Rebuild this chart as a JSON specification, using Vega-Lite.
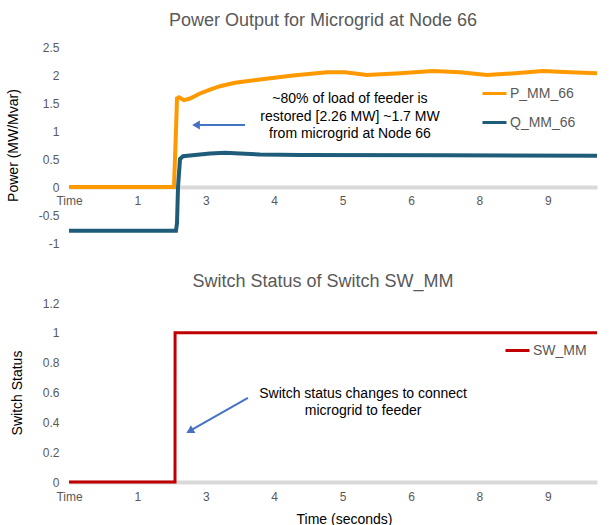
{
  "$schema": "https://vega.github.io/schema/vega-lite/v6.json",
  "padding": {"left": 6, "top": 12, "right": 12, "bottom": 0},
  "config": {"font": "Liberation Sans", "view": {"stroke": null}, "concat": {"spacing": 24}},
  "datasets": {
    "power": [
      {"series": "P_MM_66", "x": 0, "y": 0},
      {"series": "P_MM_66", "x": 1.535, "y": 0},
      {"series": "P_MM_66", "x": 1.564, "y": 1.0},
      {"series": "P_MM_66", "x": 1.579, "y": 1.58},
      {"series": "P_MM_66", "x": 1.608, "y": 1.6},
      {"series": "P_MM_66", "x": 1.681, "y": 1.55},
      {"series": "P_MM_66", "x": 1.769, "y": 1.58},
      {"series": "P_MM_66", "x": 1.915, "y": 1.67},
      {"series": "P_MM_66", "x": 2.061, "y": 1.74},
      {"series": "P_MM_66", "x": 2.208, "y": 1.8},
      {"series": "P_MM_66", "x": 2.427, "y": 1.86},
      {"series": "P_MM_66", "x": 2.792, "y": 1.92},
      {"series": "P_MM_66", "x": 3.275, "y": 1.99},
      {"series": "P_MM_66", "x": 3.772, "y": 2.05},
      {"series": "P_MM_66", "x": 4.035, "y": 2.05},
      {"series": "P_MM_66", "x": 4.357, "y": 2.0},
      {"series": "P_MM_66", "x": 4.839, "y": 2.03},
      {"series": "P_MM_66", "x": 5.322, "y": 2.07},
      {"series": "P_MM_66", "x": 5.716, "y": 2.05},
      {"series": "P_MM_66", "x": 6.111, "y": 2.0},
      {"series": "P_MM_66", "x": 6.52, "y": 2.03},
      {"series": "P_MM_66", "x": 6.93, "y": 2.07},
      {"series": "P_MM_66", "x": 7.325, "y": 2.05},
      {"series": "P_MM_66", "x": 7.72, "y": 2.03},
      {"series": "Q_MM_66", "x": 0, "y": -0.78},
      {"series": "Q_MM_66", "x": 1.564, "y": -0.78},
      {"series": "Q_MM_66", "x": 1.579, "y": -0.65},
      {"series": "Q_MM_66", "x": 1.594, "y": 0.0},
      {"series": "Q_MM_66", "x": 1.623, "y": 0.5},
      {"series": "Q_MM_66", "x": 1.667, "y": 0.55},
      {"series": "Q_MM_66", "x": 1.842, "y": 0.57},
      {"series": "Q_MM_66", "x": 2.061, "y": 0.6},
      {"series": "Q_MM_66", "x": 2.281, "y": 0.61},
      {"series": "Q_MM_66", "x": 2.5, "y": 0.6},
      {"series": "Q_MM_66", "x": 2.792, "y": 0.58},
      {"series": "Q_MM_66", "x": 3.377, "y": 0.57},
      {"series": "Q_MM_66", "x": 5.5, "y": 0.565},
      {"series": "Q_MM_66", "x": 7.72, "y": 0.56}
    ],
    "sw": [
      {"series": "SW_MM", "x": 0, "y": 0},
      {"series": "SW_MM", "x": 1.55, "y": 0},
      {"series": "SW_MM", "x": 1.551, "y": 1},
      {"series": "SW_MM", "x": 7.72, "y": 1}
    ],
    "note1": [
      {"x": 4.108, "y": 1.571, "text": "~80% of load of feeder is"},
      {"x": 4.108, "y": 1.25, "text": "restored [2.26 MW] ~1.7 MW"},
      {"x": 4.108, "y": 0.946, "text": "from microgrid at Node 66"}
    ],
    "arrow1": [{"x": 2.573, "y": 1.107, "x2": 1.857, "y2": 1.107}],
    "note2": [
      {"x": 4.3, "y": 0.59, "text": "Switch status changes to connect"},
      {"x": 4.3, "y": 0.476, "text": "microgrid to feeder"}
    ],
    "arrow2": [{"x": 2.616, "y": 0.564, "x2": 1.766, "y2": 0.342}]
  },
  "vconcat": [
    {
      "width": 528,
      "height": 196,
      "title": {"text": "Power Output for Microgrid at Node 66", "fontSize": 18, "fontWeight": "normal", "color": "#595959", "dx": -10, "offset": 11},
      "layer": [
        {
          "data": {"name": "power"},
          "mark": {"type": "line", "strokeWidth": 4},
          "encoding": {
            "x": {"field": "x", "type": "quantitative", "scale": {"domain": [0, 7.72], "nice": false, "zero": false},
              "axis": {"values": [0, 1, 2, 3, 4, 5, 6, 7], "tickCount": 30, "labelExpr": "['Time','1','3','4','5','6','8','9'][datum.value]", "offset": -56, "domainColor": "#D9D9D9", "domainWidth": 4, "ticks": false, "tickSize": 0, "labelPadding": 8, "labelFlush": false, "labelOverlap": false, "labelColor": "#595959", "labelFontSize": 12, "grid": false, "title": null}},
            "y": {"field": "y", "type": "quantitative", "scale": {"domain": [-1, 2.5], "nice": false},
              "axis": {"values": [-1, -0.5, 0, 0.5, 1, 1.5, 2, 2.5], "tickCount": 30, "labelExpr": "'' + datum.value", "labelOverlap": false, "domain": false, "ticks": false, "tickSize": 0, "grid": false, "labelPadding": 10, "labelColor": "#595959", "labelFontSize": 12, "title": "Power (MW/Mvar)", "titleFontSize": 14, "titleFontWeight": "normal", "titleColor": "#000000", "titlePadding": 18}},
            "color": {"field": "series", "type": "nominal", "scale": {"domain": ["P_MM_66", "Q_MM_66"], "range": ["#FF9900", "#1F5C7A"]},
              "legend": {"orient": "none", "legendX": 412, "legendY": 33, "title": null, "symbolType": "stroke", "symbolSize": 576, "symbolStrokeWidth": 3, "labelFontSize": 14, "labelColor": "#595959", "labelOffset": 2, "rowPadding": 8, "padding": 0}}
          }
        },
        {
          "data": {"name": "note1"},
          "mark": {"type": "text", "fontSize": 14, "color": "#000000", "align": "center", "baseline": "middle"},
          "encoding": {
            "x": {"field": "x", "type": "quantitative"},
            "y": {"field": "y", "type": "quantitative"},
            "text": {"field": "text", "type": "nominal"}
          }
        },
        {
          "data": {"name": "arrow1"},
          "mark": {"type": "rule", "color": "#4472C4", "strokeWidth": 2},
          "encoding": {
            "x": {"field": "x", "type": "quantitative"},
            "y": {"field": "y", "type": "quantitative"},
            "x2": {"field": "x2"},
            "y2": {"field": "y2"}
          }
        },
        {
          "data": {"name": "arrow1"},
          "mark": {"type": "point", "shape": "triangle-left", "size": 80, "filled": true, "color": "#4472C4", "opacity": 1},
          "encoding": {
            "x": {"field": "x2", "type": "quantitative"},
            "y": {"field": "y2", "type": "quantitative"}
          }
        }
      ]
    },
    {
      "width": 528,
      "height": 179,
      "title": {"text": "Switch Status of Switch SW_MM", "fontSize": 18, "fontWeight": "normal", "color": "#595959", "dx": -10, "offset": 6},
      "layer": [
        {
          "data": {"name": "sw"},
          "mark": {"type": "line", "strokeWidth": 3},
          "encoding": {
            "x": {"field": "x", "type": "quantitative", "scale": {"domain": [0, 7.72], "nice": false, "zero": false},
              "axis": {"values": [0, 1, 2, 3, 4, 5, 6, 7], "tickCount": 30, "labelExpr": "['Time','1','3','4','5','6','8','9'][datum.value]", "domainColor": "#D9D9D9", "domainWidth": 4, "ticks": false, "tickSize": 0, "labelPadding": 9, "labelFlush": false, "labelOverlap": false, "labelColor": "#595959", "labelFontSize": 12, "grid": false, "title": "Time (seconds)", "titleFontSize": 14, "titleFontWeight": "normal", "titleColor": "#000000", "titlePadding": 10, "titleX": 275}},
            "y": {"field": "y", "type": "quantitative", "scale": {"domain": [0, 1.2], "nice": false},
              "axis": {"values": [0, 0.2, 0.4, 0.6, 0.8, 1, 1.2], "tickCount": 30, "labelExpr": "'' + datum.value", "labelOverlap": false, "domain": false, "ticks": false, "tickSize": 0, "grid": false, "labelPadding": 10, "labelColor": "#595959", "labelFontSize": 12, "title": "Switch Status", "titleFontSize": 14, "titleFontWeight": "normal", "titleColor": "#000000", "titlePadding": 18}},
            "color": {"field": "series", "type": "nominal", "scale": {"domain": ["SW_MM"], "range": ["#C00000"]},
              "legend": {"orient": "none", "legendX": 435, "legendY": 34, "title": null, "symbolType": "stroke", "symbolSize": 576, "symbolStrokeWidth": 3, "labelFontSize": 14, "labelColor": "#595959", "labelOffset": 2, "padding": 0}}
          }
        },
        {
          "data": {"name": "note2"},
          "mark": {"type": "text", "fontSize": 14, "color": "#000000", "align": "center", "baseline": "middle"},
          "encoding": {
            "x": {"field": "x", "type": "quantitative"},
            "y": {"field": "y", "type": "quantitative"},
            "text": {"field": "text", "type": "nominal"}
          }
        },
        {
          "data": {"name": "arrow2"},
          "mark": {"type": "rule", "color": "#4472C4", "strokeWidth": 2},
          "encoding": {
            "x": {"field": "x", "type": "quantitative"},
            "y": {"field": "y", "type": "quantitative"},
            "x2": {"field": "x2"},
            "y2": {"field": "y2"}
          }
        },
        {
          "data": {"name": "arrow2"},
          "mark": {"type": "point", "shape": "triangle-up", "angle": 240, "size": 80, "filled": true, "color": "#4472C4", "opacity": 1},
          "encoding": {
            "x": {"field": "x2", "type": "quantitative"},
            "y": {"field": "y2", "type": "quantitative"}
          }
        }
      ]
    }
  ],
  "resolve": {"scale": {"color": "independent"}, "legend": {"color": "independent"}}
}
